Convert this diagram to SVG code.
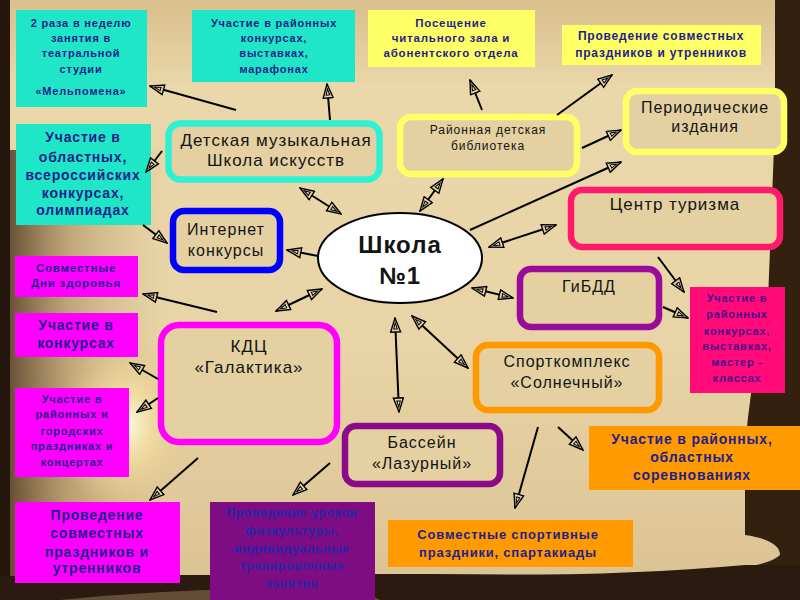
<svg xmlns="http://www.w3.org/2000/svg" width="800" height="600" viewBox="0 0 800 600">
<defs>
<linearGradient id="parch" x1="0" y1="0" x2="0" y2="1">
<stop offset="0" stop-color="#d9bf8c"/>
<stop offset="0.15" stop-color="#ead7aa"/>
<stop offset="0.6" stop-color="#e8d4a6"/>
<stop offset="1" stop-color="#dcc394"/>
</linearGradient>
<linearGradient id="leftdark" x1="0" y1="0" x2="1" y2="0">
<stop offset="0" stop-color="#3a2412" stop-opacity="0.85"/>
<stop offset="0.4" stop-color="#8a6a3e" stop-opacity="0.45"/>
<stop offset="1" stop-color="#c9ab78" stop-opacity="0"/>
</linearGradient>
<radialGradient id="glow" cx="0.5" cy="0.5" r="0.5">
<stop offset="0" stop-color="#fffbe8"/>
<stop offset="0.4" stop-color="#f4dfa0" stop-opacity="0.8"/>
<stop offset="1" stop-color="#e0c48a" stop-opacity="0"/>
</radialGradient>
<marker id="ah" viewBox="0 0 16 12" refX="15" refY="6" markerWidth="16" markerHeight="12" markerUnits="userSpaceOnUse" orient="auto-start-reverse">
<path d="M1,1 L15,6 L1,11 Z" fill="#e6d4a8" stroke="#000" stroke-width="1.4"/>
<path d="M4,4.2 L10,6 L4,7.8 Z" fill="none" stroke="#000" stroke-width="1"/>
</marker>
<style>
.t{font-family:"Liberation Sans",Arial,sans-serif;font-weight:bold;fill:#1f1f8c;text-anchor:middle;letter-spacing:0.8px}
.n{font-family:"Liberation Sans",Arial,sans-serif;fill:#141414;text-anchor:middle;letter-spacing:1px}
.nb{fill:#e4d0a0;stroke-width:6.5}
.cy{fill:#1ee6c6}
.ye{fill:#ffff66}
.mg{fill:#ff00ff}
.or{fill:#ff9a00}
.c line{stroke:#000;stroke-width:2;marker-end:url(#ah)}
.c line.d{marker-start:url(#ah)}
</style>
</defs>

<g id="background">
<rect width="800" height="600" fill="#33200f"/>
<path d="M8,0 H775 V120 Q772,200 768,300 Q750,380 745,450 L745,535 Q780,540 780,555 Q760,575 600,575 L420,574 L8,576 Z" fill="url(#parch)"/>
<rect x="0" y="150" width="170" height="450" fill="url(#leftdark)"/>
<ellipse cx="125" cy="425" rx="70" ry="90" fill="url(#glow)"/>
<rect x="0" y="0" width="10" height="600" fill="#24160c"/>
<path d="M0,576 L420,574 Q600,578 745,565 L800,565 V600 H0 Z" fill="#2a1a0f"/>
<path d="M60,600 Q200,585 360,590 L380,600 Z" fill="#8a7050" opacity="0.6"/>
</g>

<g id="school">
<ellipse cx="400" cy="258" rx="82" ry="45" fill="#ffffff" stroke="#000" stroke-width="2"/>
<text class="n" x="400" y="253" font-size="24" font-weight="bold" letter-spacing="0.5">Школа</text>
<text class="n" x="400" y="284" font-size="24" font-weight="bold" letter-spacing="0.5">№1</text>
</g>

<g id="music-school">
<rect class="nb" x="168.5" y="123.5" width="211" height="56" rx="12" stroke="#2ef0d2"/>
<text class="n" x="276" y="146" font-size="17">Детская музыкальная</text>
<text class="n" x="276" y="166" font-size="17">Школа искусств</text>
</g>

<g id="library">
<rect class="nb" x="400" y="117" width="177" height="57" rx="11" stroke="#ffff66"/>
<text class="n" x="488" y="134" font-size="12">Районная детская</text>
<text class="n" x="488" y="150" font-size="12">библиотека</text>
</g>

<g id="periodicals">
<rect class="nb" x="626" y="91" width="158" height="61" rx="11" stroke="#ffff66"/>
<text class="n" x="705" y="113" font-size="16">Периодические</text>
<text class="n" x="705" y="132" font-size="16">издания</text>
</g>

<g id="tourism">
<rect class="nb" x="571" y="190" width="209" height="57" rx="11" stroke="#ff1a6c"/>
<text class="n" x="675" y="210" font-size="17">Центр туризма</text>
</g>

<g id="internet">
<rect class="nb" x="173" y="211" width="107" height="59" rx="11" stroke="#0000ff"/>
<text class="n" x="226" y="235" font-size="16">Интернет</text>
<text class="n" x="226" y="256" font-size="16">конкурсы</text>
</g>

<g id="gibdd">
<rect class="nb" x="520" y="269" width="139" height="58" rx="11" stroke="#990b99"/>
<text class="n" x="589" y="292" font-size="16">ГиБДД</text>
</g>

<g id="kdc">
<rect class="nb" x="161" y="325" width="176" height="117" rx="18" stroke="#ff00ff"/>
<text class="n" x="249" y="352" font-size="17">КДЦ</text>
<text class="n" x="249" y="373" font-size="17">«Галактика»</text>
</g>

<g id="sport">
<rect class="nb" x="476" y="345" width="183" height="65" rx="12" stroke="#ff9900"/>
<text class="n" x="567" y="367" font-size="16">Спорткомплекс</text>
<text class="n" x="567" y="388" font-size="16">«Солнечный»</text>
</g>

<g id="pool">
<rect class="nb" x="345" y="426" width="155" height="58" rx="11" stroke="#8a0a8a"/>
<text class="n" x="422" y="448" font-size="16">Бассейн</text>
<text class="n" x="422" y="469" font-size="16">«Лазурный»</text>
</g>

<g id="melpomena">
<rect class="cy" x="16" y="10" width="131" height="97"/>
<text class="t" font-size="11"><tspan x="81" y="27">2 раза в неделю</tspan><tspan x="81" y="42">занятия в</tspan><tspan x="81" y="57">театральной</tspan><tspan x="81" y="73">студии</tspan><tspan x="81" y="95">«Мельпомена»</tspan></text>
</g>

<g id="district-contests">
<rect class="cy" x="192" y="10" width="163" height="72"/>
<text class="t" font-size="11"><tspan x="274" y="27">Участие в районных</tspan><tspan x="274" y="42">конкурсах,</tspan><tspan x="274" y="57">выставках,</tspan><tspan x="274" y="73">марафонах</tspan></text>
</g>

<g id="regional-contests">
<rect class="cy" x="16" y="124" width="135" height="101"/>
<text class="t" font-size="14"><tspan x="83" y="142">Участие в</tspan><tspan x="83" y="162">областных,</tspan><tspan x="83" y="180">всероссийских</tspan><tspan x="83" y="198">конкурсах,</tspan><tspan x="83" y="215">олимпиадах</tspan></text>
</g>

<g id="reading-room">
<rect class="ye" x="368" y="10" width="167" height="57"/>
<text class="t" font-size="11.5"><tspan x="451" y="27">Посещение</tspan><tspan x="451" y="42">читального зала и</tspan><tspan x="451" y="57">абонентского отдела</tspan></text>
</g>

<g id="library-holidays">
<rect class="ye" x="562" y="25" width="199" height="40"/>
<text class="t" font-size="12"><tspan x="661" y="40">Проведение совместных</tspan><tspan x="661" y="57">праздников и утренников</tspan></text>
</g>

<g id="health-days">
<rect class="mg" x="15" y="256" width="123" height="41"/>
<text class="t" font-size="11.5"><tspan x="76" y="272">Совместные</tspan><tspan x="76" y="287">Дни здоровья</tspan></text>
</g>

<g id="kdc-contests">
<rect class="mg" x="15" y="313" width="123" height="44"/>
<text class="t" font-size="14"><tspan x="76" y="330">Участие в</tspan><tspan x="76" y="348">конкурсах</tspan></text>
</g>

<g id="kdc-concerts">
<rect class="mg" x="15" y="388" width="114" height="89"/>
<text class="t" font-size="11"><tspan x="72" y="403">Участие в</tspan><tspan x="72" y="418">районных и</tspan><tspan x="72" y="435">городских</tspan><tspan x="72" y="450">праздниках и</tspan><tspan x="72" y="466">концертах</tspan></text>
</g>

<g id="kdc-holidays">
<rect class="mg" x="15" y="502" width="165" height="81"/>
<text class="t" font-size="14"><tspan x="97" y="520">Проведение</tspan><tspan x="97" y="538">совместных</tspan><tspan x="97" y="557">праздников и</tspan><tspan x="97" y="573">утренников</tspan></text>
</g>

<g id="pe-lessons">
<rect x="210" y="502" width="165" height="98" fill="#7e0c82"/>
<text class="t" font-size="12" style="fill:#2626a8"><tspan x="292" y="517">Проведение уроков</tspan><tspan x="292" y="535">физкультуры,</tspan><tspan x="292" y="553">индивидуальные</tspan><tspan x="292" y="570">тренировочные</tspan><tspan x="292" y="588">занятия</tspan></text>
</g>

<g id="tourism-contests">
<rect x="690" y="287" width="95" height="106" fill="#ff0a78"/>
<text class="t" font-size="11" style="fill:#4a0c8c"><tspan x="737" y="302">Участие в</tspan><tspan x="737" y="318">районных</tspan><tspan x="737" y="335">конкурсах,</tspan><tspan x="737" y="350">выставках,</tspan><tspan x="737" y="366">мастер -</tspan><tspan x="737" y="382">классах</tspan></text>
</g>

<g id="competitions">
<rect class="or" x="589" y="426" width="211" height="64"/>
<text class="t" font-size="14"><tspan x="692" y="444">Участие в районных,</tspan><tspan x="692" y="462">областных</tspan><tspan x="692" y="480">соревнованиях</tspan></text>
</g>

<g id="spartakiad">
<rect class="or" x="388" y="520" width="245" height="47"/>
<text class="t" font-size="13"><tspan x="508" y="539">Совместные спортивные</tspan><tspan x="508" y="557">праздники, спартакиады</tspan></text>
</g>

<g id="connectors" class="c">
<line x1="236" y1="110" x2="150" y2="86"/>
<line x1="330" y1="120" x2="327" y2="84"/>
<line x1="162" y1="151" x2="146" y2="172"/>
<line class="d" x1="300" y1="188" x2="341" y2="214"/>
<line x1="143" y1="225" x2="167" y2="243"/>
<line x1="318" y1="256" x2="287" y2="250"/>
<line class="d" x1="322" y1="289" x2="276" y2="311"/>
<line x1="217" y1="312" x2="143" y2="294"/>
<line x1="158" y1="379" x2="130" y2="363"/>
<line x1="158" y1="398" x2="137" y2="412"/>
<line x1="198" y1="458" x2="150" y2="500"/>
<line x1="330" y1="463" x2="293" y2="495"/>
<line class="d" x1="395" y1="318" x2="399" y2="412"/>
<line class="d" x1="412" y1="316" x2="468" y2="368"/>
<line class="d" x1="472" y1="288" x2="513" y2="298"/>
<line class="d" x1="489" y1="247" x2="556" y2="225"/>
<line x1="470" y1="230" x2="621" y2="162"/>
<line class="d" x1="420" y1="211" x2="443" y2="179"/>
<line x1="482" y1="110" x2="470" y2="80"/>
<line x1="557" y1="115" x2="612" y2="75"/>
<line x1="582" y1="148" x2="621" y2="130"/>
<line x1="658" y1="257" x2="684" y2="292"/>
<line x1="663" y1="307" x2="688" y2="318"/>
<line x1="558" y1="427" x2="583" y2="450"/>
<line x1="538" y1="427" x2="515" y2="508"/>
</g>
</svg>
